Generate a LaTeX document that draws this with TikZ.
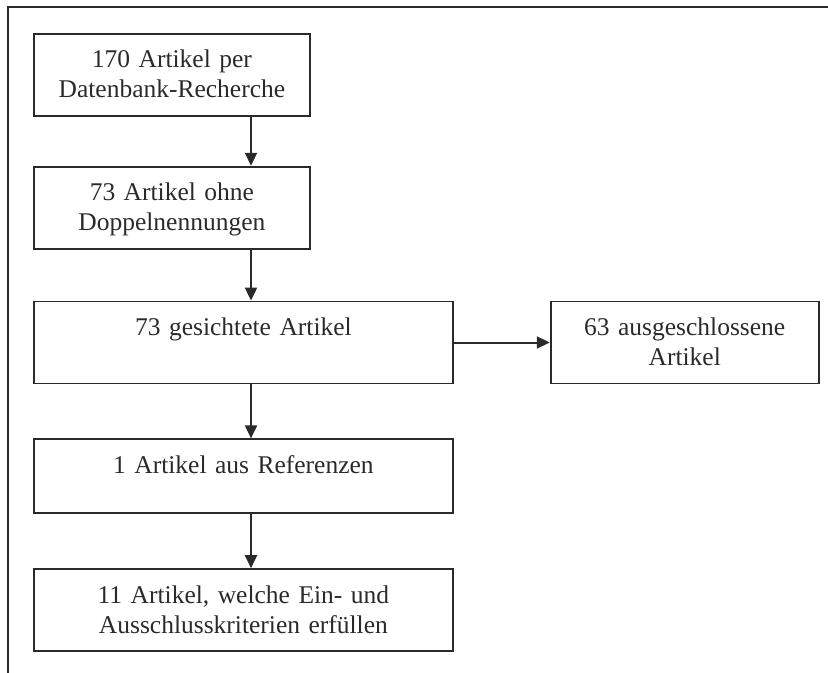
\documentclass[tikz,border=0pt]{standalone}
\usepackage{fontspec}
\setmainfont{Liberation Serif}
\usetikzlibrary{positioning,arrows.meta}
\definecolor{ink}{HTML}{2A2A2A}

\begin{document}
\begin{tikzpicture}[
    stage/.style={draw=ink, line width=0.9pt, text=ink, align=center, inner xsep=0pt, inner ysep=0pt,
        text height=17pt, text depth=24pt, font=\fontsize{12.75}{15}\selectfont},
    narrow/.style={text width=138pt},
    wide/.style={text width=209.5pt},
    flow/.style={draw=ink, line width=1pt, -{Triangle[width=6pt,length=6.5pt]}}
]
    \useasboundingbox (0,0) rectangle (414pt,-336.5pt);
    \draw[ink, line width=1pt] (4pt,-336.5pt) -- (4pt,-3.5pt) -- (414pt,-3.5pt);

    \node (search) [stage, narrow, anchor=north west] at (16.5pt,-16.5pt) {170 Artikel per\\ Datenbank-Recherche};
    \node (nodup) [stage, narrow, below=24.5pt of search.south west, anchor=north west] {73 Artikel ohne\\ Doppelnennungen};
    \node (screened) [stage, wide, below=25.5pt of nodup.south west, anchor=north west] {73 gesichtete Artikel\\ \mbox{}};
    \node (excluded) [stage, text width=134pt, right=48pt of screened] {63 ausgeschlossene\\ Artikel};
    \node (refs) [stage, wide, text depth=20pt, below=27pt of screened.south west, anchor=north west] {1 Artikel aus Referenzen\\ \mbox{}};
    \node (included) [stage, wide, below=27pt of refs.south west, anchor=north west] {11 Artikel, welche Ein- und\\ Ausschlusskriterien erfüllen};

    \coordinate (spine) at (125.5pt,0);
    \draw[flow] (search.south -| spine) -- (nodup.north -| spine);
    \draw[flow] (nodup.south -| spine) -- (screened.north -| spine);
    \draw[flow] (screened.east) -- (excluded.west);
    \draw[flow] (screened.south -| spine) -- (refs.north -| spine);
    \draw[flow] (refs.south -| spine) -- (included.north -| spine);

\end{tikzpicture}
\end{document}
